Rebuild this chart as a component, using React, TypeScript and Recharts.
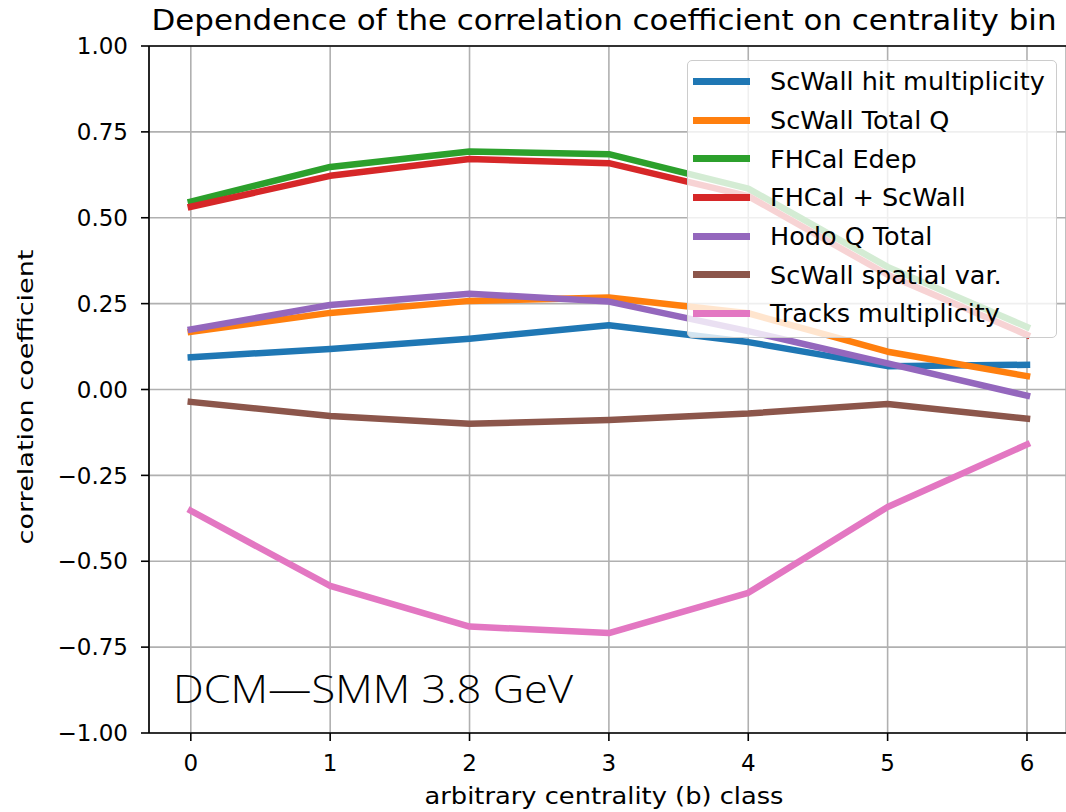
import React from "react";
import {
  LineChart,
  Line,
  XAxis,
  YAxis,
  CartesianGrid,
  ReferenceLine,
} from "recharts";

const centralityBins = [0, 1, 2, 3, 4, 5, 6];
const yTicks = [-1, -0.75, -0.5, -0.25, 0, 0.25, 0.5, 0.75, 1];

const scwallHits = [0.094, 0.118, 0.148, 0.187, 0.138, 0.068, 0.072];
const scwallTotalQ = [0.168, 0.223, 0.258, 0.268, 0.222, 0.11, 0.039];
const fhcalEdep = [0.547, 0.648, 0.693, 0.685, 0.585, 0.357, 0.182];
const fhcalScwall = [0.532, 0.622, 0.671, 0.659, 0.563, 0.334, 0.159];
const hodoQTotal = [0.175, 0.246, 0.279, 0.256, 0.17, 0.076, -0.018];
const scwallSpatial = [-0.036, -0.077, -0.1, -0.089, -0.07, -0.042, -0.085];
const tracksMult = [-0.353, -0.572, -0.69, -0.709, -0.592, -0.342, -0.16];

const series = [
  { key: "hits", name: "ScWall hit multiplicity", color: "#1f77b4", values: scwallHits },
  { key: "totq", name: "ScWall Total Q", color: "#ff7f0e", values: scwallTotalQ },
  { key: "edep", name: "FHCal Edep", color: "#2ca02c", values: fhcalEdep },
  { key: "fhsc", name: "FHCal + ScWall", color: "#d62728", values: fhcalScwall },
  { key: "hodo", name: "Hodo Q Total", color: "#9467bd", values: hodoQTotal },
  { key: "spat", name: "ScWall spatial var.", color: "#8c564b", values: scwallSpatial },
  { key: "trk", name: "Tracks multiplicity", color: "#e377c2", values: tracksMult },
];

const data = centralityBins.map((x, i) => {
  const row: Record<string, number> = { x };
  series.forEach((s) => {
    row[s.key] = s.values[i];
  });
  return row;
});

const font = "'DejaVu Sans', sans-serif";

const fmtY = (v: number) => (v < 0 ? "\u2212" : "") + Math.abs(v).toFixed(2);

export default function App() {
  return (
    <div style={{ position: "absolute", left: 0, top: 0, width: 1066, height: 812, background: "#fff", overflow: "hidden" }}>
      <LineChart
        width={1066}
        height={812}
        data={data}
        margin={{ top: 46, right: 0, bottom: 0, left: 0 }}
      >
        <CartesianGrid stroke="#b0b0b0" strokeWidth={1.6} />
        <XAxis
          type="number"
          dataKey="x"
          domain={[-0.3, 6.28]}
          ticks={centralityBins}
          allowDataOverflow
          height={79}
          tickSize={8}
          tickMargin={14}
          axisLine={{ stroke: "#000", strokeWidth: 1.6 }}
          tickLine={{ stroke: "#000", strokeWidth: 1.6 }}
          tick={{ fill: "#000", fontSize: 23, fontFamily: font }}
        />
        <YAxis
          type="number"
          domain={[-1, 1]}
          ticks={yTicks}
          width={149}
          tickSize={8}
          tickMargin={13}
          tickFormatter={fmtY}
          axisLine={{ stroke: "#000", strokeWidth: 1.6 }}
          tickLine={{ stroke: "#000", strokeWidth: 1.6 }}
          tick={{ fill: "#000", fontSize: 23, fontFamily: font }}
        />
        <ReferenceLine y={1} stroke="#000" strokeWidth={1.6} />
        {series.map((s) => (
          <Line
            key={s.key}
            type="linear"
            dataKey={s.key}
            name={s.name}
            stroke={s.color}
            strokeWidth={6.5}
            strokeLinecap="square"
            strokeLinejoin="round"
            dot={false}
            activeDot={false}
            isAnimationActive={false}
          />
        ))}
      </LineChart>

      <svg
        width={1066}
        height={812}
        style={{ position: "absolute", left: 0, top: 0, pointerEvents: "none" }}
      >
        <text
          x={604}
          y={30}
          textAnchor="middle"
          fontFamily={font}
          fontSize={28}
          fill="#000"
          textLength={905}
          lengthAdjust="spacingAndGlyphs"
        >
          Dependence of the correlation coefficient on centrality bin
        </text>
        <text
          x={604}
          y={804}
          textAnchor="middle"
          fontFamily={font}
          fontSize={23}
          fill="#000"
          textLength={359}
          lengthAdjust="spacingAndGlyphs"
        >
          arbitrary centrality (b) class
        </text>
        <text
          transform="translate(33,397) rotate(-90)"
          textAnchor="middle"
          fontFamily={font}
          fontSize={21}
          fill="#000"
          textLength={295}
          lengthAdjust="spacingAndGlyphs"
        >
          correlation coefficient
        </text>
        <text
          x={173}
          y={703}
          fontFamily="'Open Sans', sans-serif"
          fontWeight={300}
          fontSize={39}
          fill="#000"
          textLength={400}
          lengthAdjust="spacingAndGlyphs"
        >
          DCM—SMM 3.8 GeV
        </text>
      </svg>

      <div
        style={{
          position: "absolute",
          left: 687,
          top: 60,
          width: 370,
          height: 278,
          boxSizing: "border-box",
          background: "rgba(255,255,255,0.8)",
          border: "1.6px solid #cccccc",
          borderRadius: 5,
          paddingTop: 1,
          fontFamily: font,
          fontSize: 25.5,
          color: "#000",
        }}
      >
        {series.map((s) => (
          <div
            key={s.key}
            style={{ display: "flex", alignItems: "center", height: 38.7, whiteSpace: "nowrap" }}
          >
            <div style={{ width: 57, height: 7, background: s.color, marginLeft: 5, marginRight: 20, flexShrink: 0 }} />
            <span>{s.name}</span>
          </div>
        ))}
      </div>
    </div>
  );
}
